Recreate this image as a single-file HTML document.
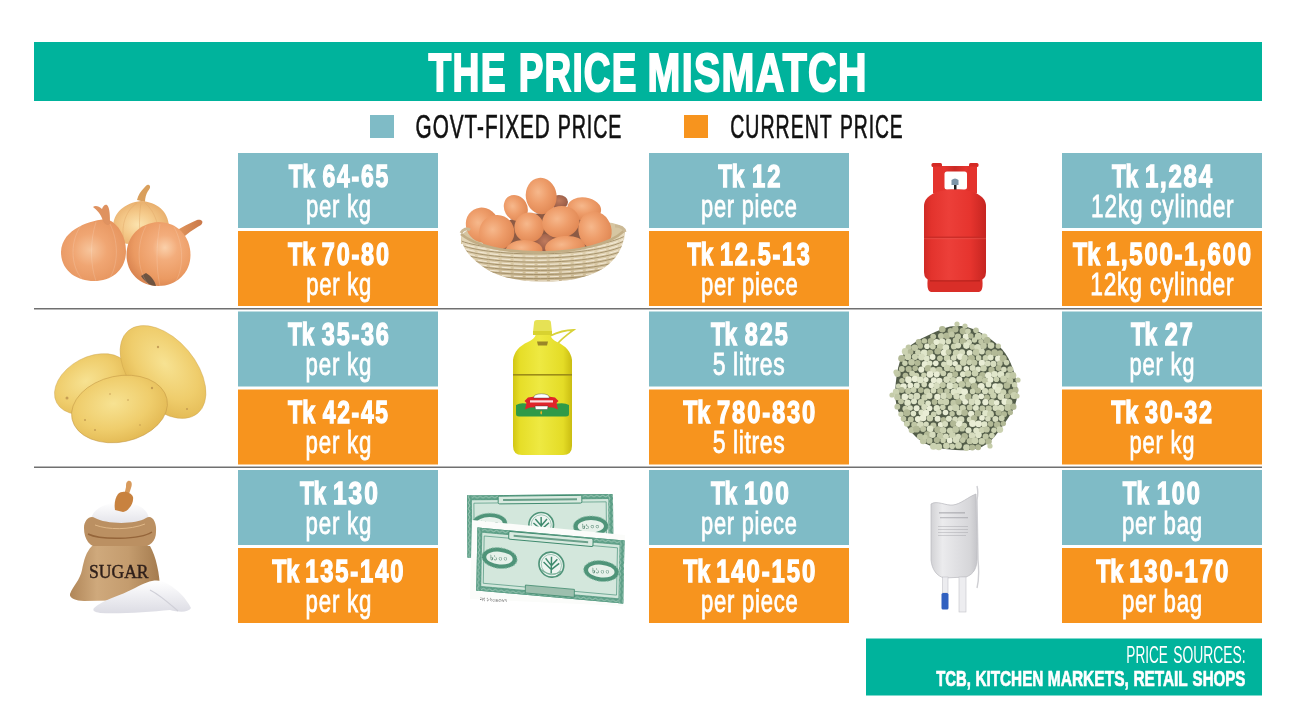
<!DOCTYPE html>
<html><head><meta charset="utf-8"><title>The Price Mismatch</title>
<style>
html,body{margin:0;padding:0;background:#fff;width:1300px;height:719px;overflow:hidden}
svg{display:block;position:absolute;left:0;top:0}
svg{font-family:"Liberation Sans",Arial,sans-serif;}
</style></head><body>
<svg width="1300" height="719" viewBox="0 0 1300 719">
<rect x="0" y="0" width="1300" height="719" fill="#fff"/>
<rect x="34" y="42" width="1228" height="59" fill="#00b39c"/>
<text y="91.40" font-size="54.5" font-weight="700" fill="#fff" stroke="#fff" stroke-width="2.0"><tspan x="428.40" textLength="78.40" lengthAdjust="spacingAndGlyphs" style="letter-spacing:1.91px">THE</tspan> <tspan x="518.70" textLength="118.90" lengthAdjust="spacingAndGlyphs" style="letter-spacing:1.75px">PRICE</tspan> <tspan x="647.50" textLength="220.20" lengthAdjust="spacingAndGlyphs" style="letter-spacing:1.91px">MISMATCH</tspan></text>
<rect x="370" y="115" width="24" height="23" fill="#7fbbc6"/>
<text y="138.40" font-size="32.6" font-weight="400" fill="#111" stroke="#111" stroke-width="0.65"><tspan x="415.60" textLength="135.20" lengthAdjust="spacingAndGlyphs" style="letter-spacing:1.49px">GOVT-FIXED</tspan> <tspan x="557.70" textLength="64.60" lengthAdjust="spacingAndGlyphs" style="letter-spacing:1.50px">PRICE</tspan></text>
<rect x="684" y="115" width="24" height="23" fill="#f7941e"/>
<text y="138.40" font-size="32.6" font-weight="400" fill="#111" stroke="#111" stroke-width="0.65"><tspan x="730.20" textLength="102.60" lengthAdjust="spacingAndGlyphs" style="letter-spacing:1.71px">CURRENT</tspan> <tspan x="840.10" textLength="63.50" lengthAdjust="spacingAndGlyphs" style="letter-spacing:1.50px">PRICE</tspan></text>
<rect x="34" y="308" width="1228" height="1.5" fill="#707070"/>
<rect x="34" y="466.5" width="1228" height="1.5" fill="#707070"/>
<rect x="238" y="153" width="200" height="75" fill="#7fbbc6"/><rect x="238" y="231" width="200" height="75" fill="#f7941e"/><rect x="649" y="153" width="200" height="75" fill="#7fbbc6"/><rect x="649" y="231" width="200" height="75" fill="#f7941e"/><rect x="1062" y="153" width="200" height="75" fill="#7fbbc6"/><rect x="1062" y="231" width="200" height="75" fill="#f7941e"/><rect x="238" y="311.5" width="200" height="75" fill="#7fbbc6"/><rect x="238" y="389.5" width="200" height="75" fill="#f7941e"/><rect x="649" y="311.5" width="200" height="75" fill="#7fbbc6"/><rect x="649" y="389.5" width="200" height="75" fill="#f7941e"/><rect x="1062" y="311.5" width="200" height="75" fill="#7fbbc6"/><rect x="1062" y="389.5" width="200" height="75" fill="#f7941e"/><rect x="238" y="470" width="200" height="75" fill="#7fbbc6"/><rect x="238" y="548" width="200" height="75" fill="#f7941e"/><rect x="649" y="470" width="200" height="75" fill="#7fbbc6"/><rect x="649" y="548" width="200" height="75" fill="#f7941e"/><rect x="1062" y="470" width="200" height="75" fill="#7fbbc6"/><rect x="1062" y="548" width="200" height="75" fill="#f7941e"/>
<text y="186.50" font-size="32" font-weight="700" fill="#fff" stroke="#fff" stroke-width="1.4"><tspan x="288.75" textLength="26.10" lengthAdjust="spacingAndGlyphs">Tk</tspan> <tspan x="322.60" textLength="67.40" lengthAdjust="spacingAndGlyphs" style="letter-spacing:2.45px">64-65</tspan></text><text y="216.60" font-size="31.5" font-weight="400" fill="#fff" stroke="#fff" stroke-width="0.8"><tspan x="305.90" textLength="65.90" lengthAdjust="spacingAndGlyphs" style="letter-spacing:1.10px">per kg</tspan></text><text y="264.50" font-size="32" font-weight="700" fill="#fff" stroke="#fff" stroke-width="1.4"><tspan x="288.00" textLength="27.00" lengthAdjust="spacingAndGlyphs">Tk</tspan> <tspan x="321.85" textLength="68.85" lengthAdjust="spacingAndGlyphs" style="letter-spacing:2.45px">70-80</tspan></text><text y="294.60" font-size="31.5" font-weight="400" fill="#fff" stroke="#fff" stroke-width="0.8"><tspan x="306.30" textLength="65.80" lengthAdjust="spacingAndGlyphs" style="letter-spacing:1.10px">per kg</tspan></text><text y="186.50" font-size="32" font-weight="700" fill="#fff" stroke="#fff" stroke-width="1.4"><tspan x="718.20" textLength="26.10" lengthAdjust="spacingAndGlyphs">Tk</tspan> <tspan x="752.05" textLength="30.45" lengthAdjust="spacingAndGlyphs" style="letter-spacing:2.66px">12</tspan></text><text y="216.60" font-size="31.5" font-weight="400" fill="#fff" stroke="#fff" stroke-width="0.8"><tspan x="701.10" textLength="96.50" lengthAdjust="spacingAndGlyphs" style="letter-spacing:1.08px">per piece</tspan></text><text y="264.50" font-size="32" font-weight="700" fill="#fff" stroke="#fff" stroke-width="1.4"><tspan x="687.15" textLength="26.10" lengthAdjust="spacingAndGlyphs">Tk</tspan> <tspan x="720.10" textLength="91.50" lengthAdjust="spacingAndGlyphs" style="letter-spacing:2.32px">12.5-13</tspan></text><text y="294.60" font-size="31.5" font-weight="400" fill="#fff" stroke="#fff" stroke-width="0.8"><tspan x="701.10" textLength="97.40" lengthAdjust="spacingAndGlyphs" style="letter-spacing:1.08px">per piece</tspan></text><text y="186.50" font-size="32" font-weight="700" fill="#fff" stroke="#fff" stroke-width="1.4"><tspan x="1111.95" textLength="26.10" lengthAdjust="spacingAndGlyphs">Tk</tspan> <tspan x="1144.90" textLength="68.95" lengthAdjust="spacingAndGlyphs" style="letter-spacing:2.39px">1,284</tspan></text><text y="216.60" font-size="31.5" font-weight="400" fill="#fff" stroke="#fff" stroke-width="0.8"><tspan x="1091.10" textLength="143.30" lengthAdjust="spacingAndGlyphs" style="letter-spacing:1.07px">12kg cylinder</tspan></text><text y="264.50" font-size="32" font-weight="700" fill="#fff" stroke="#fff" stroke-width="1.4"><tspan x="1073.00" textLength="27.00" lengthAdjust="spacingAndGlyphs">Tk</tspan> <tspan x="1105.95" textLength="146.75" lengthAdjust="spacingAndGlyphs" style="letter-spacing:2.32px">1,500-1,600</tspan></text><text y="294.60" font-size="31.5" font-weight="400" fill="#fff" stroke="#fff" stroke-width="0.8"><tspan x="1090.20" textLength="144.20" lengthAdjust="spacingAndGlyphs" style="letter-spacing:1.07px">12kg cylinder</tspan></text><text y="345.00" font-size="32" font-weight="700" fill="#fff" stroke="#fff" stroke-width="1.4"><tspan x="288.00" textLength="26.10" lengthAdjust="spacingAndGlyphs">Tk</tspan> <tspan x="321.85" textLength="68.75" lengthAdjust="spacingAndGlyphs" style="letter-spacing:2.45px">35-36</tspan></text><text y="375.10" font-size="31.5" font-weight="400" fill="#fff" stroke="#fff" stroke-width="0.8"><tspan x="305.60" textLength="66.50" lengthAdjust="spacingAndGlyphs" style="letter-spacing:1.10px">per kg</tspan></text><text y="423.00" font-size="32" font-weight="700" fill="#fff" stroke="#fff" stroke-width="1.4"><tspan x="288.00" textLength="27.00" lengthAdjust="spacingAndGlyphs">Tk</tspan> <tspan x="322.75" textLength="67.05" lengthAdjust="spacingAndGlyphs" style="letter-spacing:2.45px">42-45</tspan></text><text y="453.10" font-size="31.5" font-weight="400" fill="#fff" stroke="#fff" stroke-width="0.8"><tspan x="305.60" textLength="66.50" lengthAdjust="spacingAndGlyphs" style="letter-spacing:1.10px">per kg</tspan></text><text y="345.00" font-size="32" font-weight="700" fill="#fff" stroke="#fff" stroke-width="1.4"><tspan x="710.95" textLength="26.10" lengthAdjust="spacingAndGlyphs">Tk</tspan> <tspan x="744.80" textLength="44.95" lengthAdjust="spacingAndGlyphs" style="letter-spacing:2.66px">825</tspan></text><text y="375.10" font-size="31.5" font-weight="400" fill="#fff" stroke="#fff" stroke-width="0.8"><tspan x="712.70" textLength="72.60" lengthAdjust="spacingAndGlyphs" style="letter-spacing:0.87px">5 litres</tspan></text><text y="423.00" font-size="32" font-weight="700" fill="#fff" stroke="#fff" stroke-width="1.4"><tspan x="683.20" textLength="27.00" lengthAdjust="spacingAndGlyphs">Tk</tspan> <tspan x="717.05" textLength="100.05" lengthAdjust="spacingAndGlyphs" style="letter-spacing:2.51px">780-830</tspan></text><text y="453.10" font-size="31.5" font-weight="400" fill="#fff" stroke="#fff" stroke-width="0.8"><tspan x="712.70" textLength="72.60" lengthAdjust="spacingAndGlyphs" style="letter-spacing:0.87px">5 litres</tspan></text><text y="345.00" font-size="32" font-weight="700" fill="#fff" stroke="#fff" stroke-width="1.4"><tspan x="1130.95" textLength="26.10" lengthAdjust="spacingAndGlyphs">Tk</tspan> <tspan x="1164.80" textLength="29.90" lengthAdjust="spacingAndGlyphs" style="letter-spacing:2.66px">27</tspan></text><text y="375.10" font-size="31.5" font-weight="400" fill="#fff" stroke="#fff" stroke-width="0.8"><tspan x="1129.60" textLength="65.70" lengthAdjust="spacingAndGlyphs" style="letter-spacing:1.10px">per kg</tspan></text><text y="423.00" font-size="32" font-weight="700" fill="#fff" stroke="#fff" stroke-width="1.4"><tspan x="1111.20" textLength="27.00" lengthAdjust="spacingAndGlyphs">Tk</tspan> <tspan x="1145.05" textLength="68.85" lengthAdjust="spacingAndGlyphs" style="letter-spacing:2.45px">30-32</tspan></text><text y="453.10" font-size="31.5" font-weight="400" fill="#fff" stroke="#fff" stroke-width="0.8"><tspan x="1129.60" textLength="65.70" lengthAdjust="spacingAndGlyphs" style="letter-spacing:1.10px">per kg</tspan></text><text y="503.50" font-size="32" font-weight="700" fill="#fff" stroke="#fff" stroke-width="1.4"><tspan x="299.95" textLength="26.10" lengthAdjust="spacingAndGlyphs">Tk</tspan> <tspan x="332.90" textLength="47.00" lengthAdjust="spacingAndGlyphs" style="letter-spacing:2.66px">130</tspan></text><text y="533.60" font-size="31.5" font-weight="400" fill="#fff" stroke="#fff" stroke-width="0.8"><tspan x="305.60" textLength="66.50" lengthAdjust="spacingAndGlyphs" style="letter-spacing:1.10px">per kg</tspan></text><text y="581.50" font-size="32" font-weight="700" fill="#fff" stroke="#fff" stroke-width="1.4"><tspan x="272.20" textLength="27.00" lengthAdjust="spacingAndGlyphs">Tk</tspan> <tspan x="305.15" textLength="100.15" lengthAdjust="spacingAndGlyphs" style="letter-spacing:2.51px">135-140</tspan></text><text y="611.60" font-size="31.5" font-weight="400" fill="#fff" stroke="#fff" stroke-width="0.8"><tspan x="305.60" textLength="66.50" lengthAdjust="spacingAndGlyphs" style="letter-spacing:1.10px">per kg</tspan></text><text y="503.50" font-size="32" font-weight="700" fill="#fff" stroke="#fff" stroke-width="1.4"><tspan x="710.95" textLength="26.10" lengthAdjust="spacingAndGlyphs">Tk</tspan> <tspan x="743.90" textLength="47.00" lengthAdjust="spacingAndGlyphs" style="letter-spacing:2.66px">100</tspan></text><text y="533.60" font-size="31.5" font-weight="400" fill="#fff" stroke="#fff" stroke-width="0.8"><tspan x="701.10" textLength="96.50" lengthAdjust="spacingAndGlyphs" style="letter-spacing:1.08px">per piece</tspan></text><text y="581.50" font-size="32" font-weight="700" fill="#fff" stroke="#fff" stroke-width="1.4"><tspan x="683.20" textLength="27.00" lengthAdjust="spacingAndGlyphs">Tk</tspan> <tspan x="716.15" textLength="100.95" lengthAdjust="spacingAndGlyphs" style="letter-spacing:2.51px">140-150</tspan></text><text y="611.60" font-size="31.5" font-weight="400" fill="#fff" stroke="#fff" stroke-width="0.8"><tspan x="701.10" textLength="97.40" lengthAdjust="spacingAndGlyphs" style="letter-spacing:1.08px">per piece</tspan></text><text y="503.50" font-size="32" font-weight="700" fill="#fff" stroke="#fff" stroke-width="1.4"><tspan x="1122.80" textLength="26.10" lengthAdjust="spacingAndGlyphs">Tk</tspan> <tspan x="1156.65" textLength="45.30" lengthAdjust="spacingAndGlyphs" style="letter-spacing:2.66px">100</tspan></text><text y="533.60" font-size="31.5" font-weight="400" fill="#fff" stroke="#fff" stroke-width="0.8"><tspan x="1121.90" textLength="81.10" lengthAdjust="spacingAndGlyphs" style="letter-spacing:1.15px">per bag</tspan></text><text y="581.50" font-size="32" font-weight="700" fill="#fff" stroke="#fff" stroke-width="1.4"><tspan x="1096.20" textLength="27.00" lengthAdjust="spacingAndGlyphs">Tk</tspan> <tspan x="1129.15" textLength="100.95" lengthAdjust="spacingAndGlyphs" style="letter-spacing:2.51px">130-170</tspan></text><text y="611.60" font-size="31.5" font-weight="400" fill="#fff" stroke="#fff" stroke-width="0.8"><tspan x="1121.90" textLength="81.10" lengthAdjust="spacingAndGlyphs" style="letter-spacing:1.15px">per bag</tspan></text>
<rect x="866" y="638.5" width="396" height="57" fill="#00b39c"/>
<text y="662.80" font-size="23.0" font-weight="400" fill="#fff"><tspan x="1126.30" textLength="41.60" lengthAdjust="spacingAndGlyphs">PRICE</tspan> <tspan x="1173.20" textLength="72.50" lengthAdjust="spacingAndGlyphs">SOURCES:</tspan></text>
<text y="685.80" font-size="22.0" font-weight="700" fill="#fff" stroke="#fff" stroke-width="0.7"><tspan x="936.20" textLength="34.60" lengthAdjust="spacingAndGlyphs">TCB,</tspan> <tspan x="975.40" textLength="68.00" lengthAdjust="spacingAndGlyphs">KITCHEN</tspan> <tspan x="1047.80" textLength="81.00" lengthAdjust="spacingAndGlyphs">MARKETS,</tspan> <tspan x="1133.40" textLength="54.10" lengthAdjust="spacingAndGlyphs">RETAIL</tspan> <tspan x="1192.60" textLength="52.80" lengthAdjust="spacingAndGlyphs">SHOPS</tspan></text>
<defs><radialGradient id="onR" cx="0.6" cy="0.4" r="0.65"><stop offset="0" stop-color="#fad0aa"/><stop offset="0.3" stop-color="#f3ad7c"/><stop offset="0.75" stop-color="#eb9a62"/><stop offset="1" stop-color="#d98450"/></radialGradient>
<radialGradient id="onL" cx="0.45" cy="0.5" r="0.65"><stop offset="0" stop-color="#f7c59c"/><stop offset="0.4" stop-color="#f0a673"/><stop offset="0.85" stop-color="#e79660"/><stop offset="1" stop-color="#d98652"/></radialGradient>
<radialGradient id="onB" cx="0.45" cy="0.55" r="0.6"><stop offset="0" stop-color="#fbe3ae"/><stop offset="0.5" stop-color="#f4c888"/><stop offset="1" stop-color="#e6aa68"/></radialGradient>
<linearGradient id="stem" x1="0" y1="0" x2="1" y2="0"><stop offset="0" stop-color="#e59a5e"/><stop offset="1" stop-color="#c9784a"/></linearGradient><radialGradient id="egg" cx="0.42" cy="0.38" r="0.72"><stop offset="0" stop-color="#f6b88c"/><stop offset="0.45" stop-color="#ee9d6a"/><stop offset="0.85" stop-color="#e28a56"/><stop offset="1" stop-color="#c9703f"/></radialGradient>
<radialGradient id="eggD" cx="0.5" cy="0.4" r="0.7"><stop offset="0" stop-color="#c07a5c"/><stop offset="1" stop-color="#8a5240"/></radialGradient>
<linearGradient id="bask" x1="0" y1="0" x2="0" y2="1"><stop offset="0" stop-color="#e8dcc0"/><stop offset="0.6" stop-color="#d9c9a6"/><stop offset="1" stop-color="#c7b48e"/></linearGradient>
<clipPath id="bclip"><path d="M461,234 C475,246 505,252 540,252.5 C580,252 610,244 624,231 C625,245 618,258 604,268 C585,280 560,282 540,281.5 C515,281 495,276 482,266 C468,256 461,246 461,234 Z"/></clipPath><linearGradient id="cyl" x1="0" y1="0" x2="1" y2="0"><stop offset="0" stop-color="#cf2a25"/><stop offset="0.12" stop-color="#e3332d"/><stop offset="0.4" stop-color="#ec3f39"/><stop offset="0.75" stop-color="#e6342e"/><stop offset="1" stop-color="#c62521"/></linearGradient>
<linearGradient id="cylc" x1="0" y1="0" x2="1" y2="0"><stop offset="0" stop-color="#d42b26"/><stop offset="0.25" stop-color="#e6342e"/><stop offset="0.5" stop-color="#c92a25"/><stop offset="0.75" stop-color="#e6342e"/><stop offset="1" stop-color="#cf2823"/></linearGradient><radialGradient id="pot" cx="0.45" cy="0.4" r="0.7"><stop offset="0" stop-color="#f7e292"/><stop offset="0.55" stop-color="#efcd6c"/><stop offset="0.85" stop-color="#e4bb56"/><stop offset="1" stop-color="#cf9f42"/></radialGradient><linearGradient id="oil" x1="0" y1="0" x2="1" y2="0"><stop offset="0" stop-color="#d2c614"/><stop offset="0.12" stop-color="#e6de28"/><stop offset="0.45" stop-color="#eee942"/><stop offset="0.85" stop-color="#e4dc26"/><stop offset="1" stop-color="#cabd12"/></linearGradient><linearGradient id="sack" x1="0" y1="0" x2="1" y2="0"><stop offset="0" stop-color="#b08658"/><stop offset="0.3" stop-color="#cfa97c"/><stop offset="0.65" stop-color="#c49c6e"/><stop offset="1" stop-color="#a47b4e"/></linearGradient>
<linearGradient id="sug" x1="0" y1="0" x2="0" y2="1"><stop offset="0" stop-color="#ffffff"/><stop offset="1" stop-color="#dcdce4"/></linearGradient><pattern id="wav" width="6" height="4" patternUnits="userSpaceOnUse"><rect width="6" height="4" fill="#5d9f87"/><path d="M0,2 Q1.5,0.5 3,2 T6,2" stroke="#b5d6c6" stroke-width="0.8" fill="none"/></pattern>
<pattern id="wavv" width="4" height="6" patternUnits="userSpaceOnUse"><rect width="4" height="6" fill="#5d9f87"/><path d="M2,0 Q0.5,1.5 2,3 T2,6" stroke="#b5d6c6" stroke-width="0.8" fill="none"/></pattern><linearGradient id="iv" x1="0" y1="0" x2="1" y2="0"><stop offset="0" stop-color="#d2d2d5"/><stop offset="0.25" stop-color="#ebebed"/><stop offset="0.55" stop-color="#e0e0e3"/><stop offset="0.85" stop-color="#d6d6d9"/><stop offset="1" stop-color="#c6c6ca"/></linearGradient></defs><g id="onions">
<path d="M137,200 C138,195 141,191 144,188 C146,186 147,184 149,185 C151,186 150,189 148,191 C146,194 145,198 145,202 Z" fill="#d99f5c"/>
<path d="M141,201 C125,203 113,212 113,228 C113,238 120,244 130,244 L160,244 C168,242 170,234 169,226 C168,211 157,202 141,201 Z" fill="url(#onB)"/>
<g stroke="#e0a868" stroke-opacity="0.55" stroke-width="0.8" fill="none"><path d="M137,203 C124,212 121,228 124,242"/><path d="M145,203 C156,212 160,228 158,242"/><path d="M141,203 C139,215 139,230 141,244"/></g>
<path d="M174,232 C182,227 190,223 197,220 C202,219 204,222 201,225 C194,229 186,234 181,240 Z" fill="url(#stem)"/>
<path d="M107,219 C92,220 62,228 61,252 C61,271 77,281 94,281 C112,281 126,270 126,251 C126,236 118,224 109,220 Z" fill="url(#onL)"/>
<path d="M103,221 C101,214 97,210 93,207 C95,205 99,206 102,209 C103,206 105,204 107,205 C110,208 110,216 110,224 C108,226 105,225 103,221 Z" fill="#df9260"/>
<path d="M158.5,222 C140,223 126.5,236 126.5,255 C126.5,273 140,286 158.5,286 C176,286 190.5,273 190.5,255 C190.5,236 177,222 158.5,222 Z" fill="url(#onR)"/>
<path d="M141,276 C145,282 150,286 156,286 C155,281 151,276 146,273 Z" fill="#6f5340"/>
<g stroke="#fff" stroke-opacity="0.16" stroke-width="0.9" fill="none">
<path d="M82,224 C70,240 70,265 82,279"/><path d="M96,222 C90,240 90,265 96,281"/><path d="M110,224 C118,240 119,262 110,278"/>
<path d="M146,226 C136,245 137,270 148,284"/><path d="M160,224 C156,245 156,268 160,286"/><path d="M174,227 C184,245 184,268 175,283"/>
</g>
</g>
<g id="eggs">
<path d="M461,236 C466,229 476,226 486,226 L600,222 C612,222 622,224 625,231 L624,240 L461,244 Z" fill="#d6c6a2"/>
<path d="M492,236 C497,222 520,214 545,213 C570,213 592,220 598,234 L592,250 L496,250 Z" fill="#8c5a44"/>
<ellipse cx="559" cy="202" rx="9" ry="7" transform="rotate(0 559 202)" fill="url(#eggD)"/>
<ellipse cx="541.2" cy="196" rx="15.4" ry="18.3" transform="rotate(-8 541.2 196)" fill="url(#egg)"/>
<ellipse cx="584.2" cy="209" rx="17" ry="11.5" transform="rotate(8 584.2 209)" fill="url(#egg)"/>
<ellipse cx="515.8" cy="208" rx="11.5" ry="13.5" transform="rotate(-30 515.8 208)" fill="url(#egg)"/>
<ellipse cx="482.5" cy="225" rx="16.4" ry="17.7" transform="rotate(-30 482.5 225)" fill="url(#egg)"/>
<ellipse cx="545" cy="243" rx="10" ry="9" transform="rotate(0 545 243)" fill="url(#eggD)"/>
<ellipse cx="529.2" cy="227.5" rx="14.8" ry="15" transform="rotate(0 529.2 227.5)" fill="url(#egg)"/>
<ellipse cx="560.8" cy="222" rx="18.8" ry="16" transform="rotate(-10 560.8 222)" fill="url(#egg)"/>
<ellipse cx="595" cy="230.5" rx="16.5" ry="19.2" transform="rotate(-15 595 230.5)" fill="url(#egg)"/>
<ellipse cx="496.7" cy="232.5" rx="17.7" ry="17.5" transform="rotate(-20 496.7 232.5)" fill="url(#egg)"/>
<ellipse cx="524.2" cy="250" rx="18.3" ry="10" transform="rotate(0 524.2 250)" fill="url(#egg)"/>
<ellipse cx="565" cy="247" rx="20" ry="11" transform="rotate(-5 565 247)" fill="url(#egg)"/>
<path d="M461,234 C475,246 505,252 540,252.5 C580,252 610,244 624,231 C625,245 618,258 604,268 C585,280 560,282 540,281.5 C515,281 495,276 482,266 C468,256 461,246 461,234 Z" fill="url(#bask)"/>
<g clip-path="url(#bclip)">
<g stroke="#9c8862" stroke-width="1" fill="none" opacity="0.85">
<path d="M455,238.0 C480,254.0 600,255.0 630,233.0"/>
<path d="M455,242.3 C480,258.0 600,259.0 630,237.7"/>
<path d="M455,246.6 C480,262.0 600,263.0 630,242.4"/>
<path d="M455,250.9 C480,266.0 600,267.0 630,247.1"/>
<path d="M455,255.1 C480,270.0 600,271.0 630,251.9"/>
<path d="M455,259.4 C480,274.0 600,275.0 630,256.6"/>
<path d="M455,263.7 C480,278.0 600,279.0 630,261.3"/>
<path d="M455,268.0 C480,282.0 600,283.0 630,266.0"/>
</g>
<g stroke="#f4ecdc" stroke-width="1" fill="none" opacity="0.9">
<path d="M455,240.5 C480,256.3 600,257.3 630,235.5" stroke-dasharray="9 3"/>
<path d="M455,244.8 C480,260.3 600,261.3 630,240.2" stroke-dasharray="9 3"/>
<path d="M455,249.1 C480,264.3 600,265.3 630,244.9" stroke-dasharray="9 3"/>
<path d="M455,253.4 C480,268.3 600,269.3 630,249.6" stroke-dasharray="9 3"/>
<path d="M455,257.6 C480,272.3 600,273.3 630,254.4" stroke-dasharray="9 3"/>
<path d="M455,261.9 C480,276.3 600,277.3 630,259.1" stroke-dasharray="9 3"/>
<path d="M455,266.2 C480,280.3 600,281.3 630,263.8" stroke-dasharray="9 3"/>
<path d="M455,270.5 C480,284.3 600,285.3 630,268.5" stroke-dasharray="9 3"/>
</g></g>
<path d="M461,234 C475,246 505,252 540,252.5 C580,252 610,244 624,231" stroke="#c2ae86" stroke-width="2.4" fill="none"/>
<path d="M461,233 C463,229 467,228 470,230" stroke="#cbb995" stroke-width="3" fill="none"/>
<path d="M615,226 C620,226 624,228 625,232" stroke="#cbb995" stroke-width="3" fill="none"/>
</g>
<g id="cyl">
<path d="M933,166 L977,166 L977,193 L933,193 Z M944.5,171.5 L944.5,187 Q944.5,189.5 947,189.5 L964.5,189.5 Q967,189.5 967,187 L967,174 Q967,171.5 964.5,171.5 L947,171.5 Q944.5,171.5 944.5,174 Z" fill="url(#cylc)" fill-rule="evenodd"/>
<rect x="931.5" y="163" width="10.5" height="4" rx="1.5" fill="#d42a25"/>
<rect x="969" y="163" width="9.5" height="4" rx="1.5" fill="#d42a25"/>
<rect x="933" y="166.5" width="9" height="27" fill="#e4332d"/>
<rect x="969.5" y="166.5" width="7.5" height="27" fill="#e4332d"/>
<rect x="954" y="184" width="2.5" height="6" fill="#222"/>
<path d="M951.5,180 Q955,177 958.5,180 L958.5,185 L951.5,185 Z" fill="#7d95a8"/>
<path d="M928,277 L982,277 Q984,291 979,292 L931,292 Q926,291 928,277 Z" fill="#d92e28"/>
<path d="M924,206 C924,196 936,189.5 955,189.5 C974,189.5 986,196 986,206 L986,272 Q986,280 978,281 L932,281 Q924,280 924,272 Z" fill="url(#cyl)"/>
<rect x="924" y="236.5" width="62" height="1.6" fill="#c42a25" opacity="0.8"/>
<rect x="924" y="238.2" width="62" height="1" fill="#f0625a" opacity="0.5"/>
<rect x="930" y="280" width="50" height="1.5" fill="#a81c18" opacity="0.6"/>
</g>
<g id="potatoes">
<ellipse cx="92" cy="384" rx="40" ry="27" transform="rotate(-28 92 384)" fill="url(#pot)" stroke="#caa04a" stroke-opacity="0.5" stroke-width="0.8"/>
<ellipse cx="163" cy="372" rx="54" ry="33" transform="rotate(50 163 372)" fill="url(#pot)" stroke="#caa04a" stroke-opacity="0.5" stroke-width="0.8"/>
<ellipse cx="119.5" cy="409" rx="48.5" ry="33" transform="rotate(-12 119.5 409)" fill="url(#pot)" stroke="#c49a46" stroke-opacity="0.6" stroke-width="0.9"/>
<g fill="#b58a48" opacity="0.7"><circle cx="67" cy="398" r="1.5"/><circle cx="85" cy="420" r="1"/><circle cx="110" cy="394" r="0.8"/><circle cx="128" cy="400" r="0.8"/><circle cx="152" cy="388" r="1.2"/><circle cx="158" cy="347" r="1.2"/><circle cx="187" cy="409" r="1"/><circle cx="95" cy="430" r="1"/><circle cx="140" cy="425" r="0.8"/></g>
</g>
<g id="oil">
<path d="M550,336 C558,332 566,330 573.5,330 C568,334 561,339 556.5,345" stroke="#d8d23a" stroke-width="1.8" fill="none"/>
<path d="M536,334 L550,334 C551,338 553,340 557,342 C566,346 571,352 572,360 L572,446 Q572,455 563,455 L522,455 Q513,455 513,446 L513,360 C514,352 519,346 528,342 C532,340 535,338 536,334 Z" fill="url(#oil)"/>
<path d="M537,341.5 L548,341.5 L547,345.5 L538,345.5 Z" fill="#8c7424" opacity="0.85"/>
<path d="M534,323 Q534,320 537,320 L548,320 Q551,320 551,323 L552,332 L533,332 Z" fill="#e6e255"/>
<rect x="533" y="331" width="19" height="4" fill="#d8d230"/>
<rect x="513" y="374" width="59" height="1.6" fill="#9c8c18"/>
<path d="M516,405 Q520,402.5 526,403.5 L558,403.5 Q565,402.5 569,405 L569,414 Q569,416.5 566,416.5 L519,416.5 Q516,416.5 516,414 Z" fill="#2f9a48"/>
<path d="M524.5,401 L528,397.5 Q541.5,395 555,397.5 L558.5,401 L556.5,403 L558,409.5 L553,407.5 Q541.5,406.5 530,407.5 L525,409.5 L526.5,403 Z" fill="#e0242a"/>
<path d="M533.5,398 Q533.5,394 541.5,393.8 Q549.5,394 549.5,398 Z" fill="#fff" stroke="#333" stroke-width="0.4"/>
<path d="M535,406 L548,406 L547.5,409.5 L535.5,409.5 Z" fill="#fff" stroke="#333" stroke-width="0.4"/>
<rect x="530" y="400.3" width="23" height="2.2" fill="#fff" opacity="0.85"/>
<path d="M541.2,410.5 Q543,413 541.2,414.8 Q539.4,413 541.2,410.5 Z" fill="#f4b41e"/>
</g>
<g id="lentils">
<polygon points="1017.3,389.0 1017.3,394.5 1016.5,399.9 1015.0,405.2 1012.8,410.2 1010.1,414.9 1007.2,419.4 1004.2,423.7 1001.2,428.0 998.0,432.2 994.7,436.5 990.9,440.4 986.7,443.9 982.0,446.7 976.9,448.6 971.5,449.8 966.1,450.2 960.8,450.2 955.5,449.9 950.3,449.5 945.1,448.9 939.9,448.2 934.7,447.1 929.6,445.4 924.7,443.2 920.2,440.3 916.0,436.9 912.1,433.1 908.6,429.0 905.4,424.6 902.5,420.1 900.0,415.3 898.0,410.3 896.5,405.1 895.6,399.7 895.2,394.4 895.3,389.0 895.7,383.7 896.3,378.4 897.1,373.1 898.1,367.8 899.6,362.5 901.6,357.4 904.3,352.5 907.7,348.3 911.8,344.6 916.3,341.5 920.9,338.8 925.7,336.5 930.4,334.3 935.1,332.1 939.9,330.0 944.9,328.1 950.1,326.6 955.5,325.9 960.9,325.9 966.3,326.8 971.5,328.4 976.4,330.6 981.2,333.1 985.7,335.8 990.1,338.7 994.4,341.9 998.4,345.4 1002.1,349.3 1005.4,353.5 1008.2,358.1 1010.6,362.9 1012.6,367.9 1014.3,373.0 1015.7,378.2 1016.8,383.6" fill="#535d49"/>
<circle cx="942.3" cy="329.3" r="3.3" fill="#b2b996"/>
<circle cx="950.5" cy="330.8" r="2.9" fill="#b2b996"/>
<circle cx="955.3" cy="329.3" r="3.2" fill="#b2b996"/>
<circle cx="962.9" cy="331.1" r="3.3" fill="#b2b996"/>
<circle cx="968.0" cy="331.2" r="2.8" fill="#cbd2b1"/>
<circle cx="976.0" cy="330.3" r="2.8" fill="#c0c7a5"/>
<circle cx="933.2" cy="336.6" r="2.9" fill="#c0c7a5"/>
<circle cx="941.1" cy="336.0" r="3.1" fill="#c0c7a5"/>
<circle cx="946.8" cy="335.8" r="3.3" fill="#b2b996"/>
<circle cx="951.8" cy="334.5" r="2.9" fill="#c0c7a5"/>
<circle cx="957.9" cy="336.6" r="3.1" fill="#c0c7a5"/>
<circle cx="966.0" cy="336.7" r="3.2" fill="#e9edd5"/>
<circle cx="970.8" cy="336.0" r="2.7" fill="#b2b996"/>
<circle cx="978.3" cy="336.2" r="3.5" fill="#cbd2b1"/>
<circle cx="984.3" cy="336.8" r="3.2" fill="#cbd2b1"/>
<circle cx="918.7" cy="342.1" r="3.0" fill="#b2b996"/>
<circle cx="924.4" cy="340.9" r="2.7" fill="#c0c7a5"/>
<circle cx="930.9" cy="341.4" r="3.3" fill="#b2b996"/>
<circle cx="936.6" cy="342.0" r="3.1" fill="#e9edd5"/>
<circle cx="942.1" cy="341.8" r="3.4" fill="#e0e6ca"/>
<circle cx="948.4" cy="341.4" r="2.8" fill="#d6dcbe"/>
<circle cx="955.9" cy="340.5" r="3.2" fill="#c0c7a5"/>
<circle cx="962.8" cy="341.2" r="3.2" fill="#b2b996"/>
<circle cx="969.0" cy="342.2" r="2.9" fill="#d6dcbe"/>
<circle cx="974.5" cy="340.0" r="2.7" fill="#cbd2b1"/>
<circle cx="981.0" cy="341.6" r="2.7" fill="#c0c7a5"/>
<circle cx="987.2" cy="340.4" r="3.4" fill="#b2b996"/>
<circle cx="908.7" cy="347.5" r="3.1" fill="#c0c7a5"/>
<circle cx="914.8" cy="347.8" r="3.3" fill="#c0c7a5"/>
<circle cx="920.2" cy="345.9" r="2.8" fill="#b2b996"/>
<circle cx="927.0" cy="346.2" r="2.8" fill="#e9edd5"/>
<circle cx="932.8" cy="346.5" r="2.9" fill="#cbd2b1"/>
<circle cx="940.2" cy="346.7" r="3.3" fill="#c0c7a5"/>
<circle cx="945.9" cy="347.5" r="3.3" fill="#e0e6ca"/>
<circle cx="953.9" cy="346.6" r="3.0" fill="#cbd2b1"/>
<circle cx="958.1" cy="345.6" r="3.0" fill="#d6dcbe"/>
<circle cx="966.4" cy="345.6" r="3.3" fill="#e0e6ca"/>
<circle cx="972.4" cy="346.9" r="2.8" fill="#c0c7a5"/>
<circle cx="977.8" cy="347.4" r="3.5" fill="#d6dcbe"/>
<circle cx="983.5" cy="345.8" r="3.3" fill="#c0c7a5"/>
<circle cx="991.0" cy="345.6" r="3.3" fill="#cbd2b1"/>
<circle cx="998.3" cy="346.1" r="2.7" fill="#c0c7a5"/>
<circle cx="905.2" cy="351.5" r="3.4" fill="#cbd2b1"/>
<circle cx="910.6" cy="351.9" r="2.8" fill="#b2b996"/>
<circle cx="918.0" cy="352.3" r="2.9" fill="#cbd2b1"/>
<circle cx="924.2" cy="352.9" r="3.4" fill="#e0e6ca"/>
<circle cx="930.0" cy="353.0" r="3.2" fill="#b2b996"/>
<circle cx="937.7" cy="351.3" r="3.3" fill="#b2b996"/>
<circle cx="944.1" cy="352.8" r="3.2" fill="#e9edd5"/>
<circle cx="948.6" cy="352.1" r="2.9" fill="#c0c7a5"/>
<circle cx="956.2" cy="353.2" r="3.4" fill="#cbd2b1"/>
<circle cx="962.0" cy="352.4" r="3.1" fill="#d6dcbe"/>
<circle cx="969.6" cy="353.0" r="3.0" fill="#e9edd5"/>
<circle cx="976.2" cy="352.2" r="3.5" fill="#c0c7a5"/>
<circle cx="981.9" cy="351.5" r="2.9" fill="#d6dcbe"/>
<circle cx="988.4" cy="353.0" r="3.0" fill="#b2b996"/>
<circle cx="994.6" cy="352.8" r="3.5" fill="#b2b996"/>
<circle cx="1000.0" cy="353.2" r="3.0" fill="#b2b996"/>
<circle cx="901.6" cy="358.4" r="3.4" fill="#b2b996"/>
<circle cx="907.9" cy="356.7" r="3.4" fill="#cbd2b1"/>
<circle cx="915.0" cy="356.8" r="3.1" fill="#cbd2b1"/>
<circle cx="921.4" cy="357.0" r="3.4" fill="#d6dcbe"/>
<circle cx="926.7" cy="358.5" r="3.0" fill="#e0e6ca"/>
<circle cx="932.6" cy="357.0" r="2.9" fill="#e9edd5"/>
<circle cx="939.9" cy="358.3" r="2.9" fill="#c0c7a5"/>
<circle cx="947.1" cy="358.3" r="3.3" fill="#cbd2b1"/>
<circle cx="953.8" cy="357.8" r="2.9" fill="#d6dcbe"/>
<circle cx="960.2" cy="356.8" r="3.2" fill="#e9edd5"/>
<circle cx="964.8" cy="357.9" r="3.1" fill="#cbd2b1"/>
<circle cx="971.4" cy="358.3" r="3.5" fill="#b2b996"/>
<circle cx="978.6" cy="357.9" r="2.8" fill="#cbd2b1"/>
<circle cx="985.5" cy="357.9" r="2.9" fill="#cbd2b1"/>
<circle cx="990.6" cy="357.5" r="3.0" fill="#e0e6ca"/>
<circle cx="998.3" cy="358.8" r="3.3" fill="#e9edd5"/>
<circle cx="1003.2" cy="358.6" r="3.5" fill="#b2b996"/>
<circle cx="904.9" cy="363.3" r="2.7" fill="#cbd2b1"/>
<circle cx="911.6" cy="362.3" r="3.3" fill="#c0c7a5"/>
<circle cx="917.6" cy="363.1" r="3.0" fill="#b2b996"/>
<circle cx="925.0" cy="364.4" r="3.3" fill="#e9edd5"/>
<circle cx="929.7" cy="363.3" r="2.8" fill="#e0e6ca"/>
<circle cx="935.8" cy="363.2" r="2.8" fill="#e9edd5"/>
<circle cx="943.9" cy="364.3" r="2.8" fill="#d6dcbe"/>
<circle cx="949.4" cy="362.9" r="3.3" fill="#e0e6ca"/>
<circle cx="955.2" cy="363.6" r="2.7" fill="#e9edd5"/>
<circle cx="963.3" cy="362.4" r="3.4" fill="#cbd2b1"/>
<circle cx="969.4" cy="362.2" r="2.8" fill="#cbd2b1"/>
<circle cx="974.4" cy="362.7" r="3.0" fill="#c0c7a5"/>
<circle cx="981.9" cy="362.9" r="3.2" fill="#e9edd5"/>
<circle cx="987.6" cy="363.6" r="3.0" fill="#d6dcbe"/>
<circle cx="993.4" cy="363.9" r="3.1" fill="#d6dcbe"/>
<circle cx="999.8" cy="363.4" r="2.8" fill="#c0c7a5"/>
<circle cx="1006.5" cy="362.6" r="2.8" fill="#cbd2b1"/>
<circle cx="901.8" cy="369.0" r="2.9" fill="#c0c7a5"/>
<circle cx="908.7" cy="369.1" r="3.1" fill="#b2b996"/>
<circle cx="915.2" cy="368.2" r="2.8" fill="#b2b996"/>
<circle cx="921.3" cy="369.6" r="3.1" fill="#e9edd5"/>
<circle cx="928.1" cy="368.4" r="3.3" fill="#b2b996"/>
<circle cx="933.1" cy="369.9" r="3.0" fill="#d6dcbe"/>
<circle cx="939.2" cy="370.1" r="3.4" fill="#c0c7a5"/>
<circle cx="947.2" cy="368.0" r="3.3" fill="#cbd2b1"/>
<circle cx="952.1" cy="369.4" r="2.8" fill="#c0c7a5"/>
<circle cx="958.5" cy="367.9" r="3.4" fill="#d6dcbe"/>
<circle cx="966.3" cy="368.7" r="2.8" fill="#e9edd5"/>
<circle cx="972.6" cy="368.0" r="3.0" fill="#d6dcbe"/>
<circle cx="978.1" cy="369.3" r="2.8" fill="#e0e6ca"/>
<circle cx="983.5" cy="368.2" r="3.3" fill="#cbd2b1"/>
<circle cx="991.5" cy="369.9" r="3.2" fill="#b2b996"/>
<circle cx="998.6" cy="368.0" r="2.9" fill="#b2b996"/>
<circle cx="1003.9" cy="369.5" r="2.8" fill="#d6dcbe"/>
<circle cx="1010.3" cy="369.3" r="3.1" fill="#c0c7a5"/>
<circle cx="897.5" cy="373.7" r="3.2" fill="#c0c7a5"/>
<circle cx="905.5" cy="375.6" r="2.9" fill="#b2b996"/>
<circle cx="912.1" cy="373.5" r="2.9" fill="#cbd2b1"/>
<circle cx="916.4" cy="375.5" r="2.8" fill="#cbd2b1"/>
<circle cx="923.8" cy="375.1" r="2.7" fill="#cbd2b1"/>
<circle cx="929.9" cy="374.3" r="3.4" fill="#e9edd5"/>
<circle cx="936.7" cy="374.3" r="3.1" fill="#e9edd5"/>
<circle cx="943.3" cy="373.3" r="2.9" fill="#cbd2b1"/>
<circle cx="950.0" cy="375.3" r="2.9" fill="#d6dcbe"/>
<circle cx="955.1" cy="374.3" r="3.0" fill="#b2b996"/>
<circle cx="962.9" cy="374.2" r="2.9" fill="#e0e6ca"/>
<circle cx="968.0" cy="373.6" r="3.3" fill="#cbd2b1"/>
<circle cx="975.1" cy="373.3" r="3.3" fill="#cbd2b1"/>
<circle cx="982.4" cy="375.1" r="3.2" fill="#b2b996"/>
<circle cx="988.4" cy="375.3" r="3.4" fill="#e9edd5"/>
<circle cx="994.6" cy="374.2" r="3.3" fill="#e0e6ca"/>
<circle cx="1000.9" cy="374.4" r="3.4" fill="#e0e6ca"/>
<circle cx="1008.3" cy="375.2" r="3.0" fill="#cbd2b1"/>
<circle cx="1012.9" cy="375.4" r="3.4" fill="#c0c7a5"/>
<circle cx="902.0" cy="380.6" r="2.7" fill="#c0c7a5"/>
<circle cx="908.5" cy="379.7" r="3.4" fill="#e9edd5"/>
<circle cx="914.8" cy="378.9" r="3.1" fill="#e9edd5"/>
<circle cx="920.3" cy="379.9" r="3.4" fill="#e0e6ca"/>
<circle cx="925.9" cy="379.6" r="2.7" fill="#e9edd5"/>
<circle cx="933.8" cy="380.3" r="3.0" fill="#e9edd5"/>
<circle cx="939.3" cy="381.0" r="3.2" fill="#e9edd5"/>
<circle cx="946.7" cy="379.6" r="3.4" fill="#d6dcbe"/>
<circle cx="953.1" cy="380.1" r="3.2" fill="#cbd2b1"/>
<circle cx="959.2" cy="379.7" r="3.2" fill="#e9edd5"/>
<circle cx="966.7" cy="380.3" r="2.7" fill="#b2b996"/>
<circle cx="972.4" cy="380.6" r="3.5" fill="#e0e6ca"/>
<circle cx="979.5" cy="378.8" r="3.2" fill="#c0c7a5"/>
<circle cx="985.0" cy="380.5" r="3.1" fill="#c0c7a5"/>
<circle cx="990.5" cy="379.7" r="3.0" fill="#e9edd5"/>
<circle cx="996.4" cy="379.2" r="2.8" fill="#cbd2b1"/>
<circle cx="1003.6" cy="379.0" r="3.4" fill="#cbd2b1"/>
<circle cx="1009.7" cy="380.9" r="3.5" fill="#c0c7a5"/>
<circle cx="898.5" cy="386.1" r="2.7" fill="#cbd2b1"/>
<circle cx="903.6" cy="386.5" r="3.2" fill="#e9edd5"/>
<circle cx="910.3" cy="385.4" r="2.9" fill="#e9edd5"/>
<circle cx="916.7" cy="385.5" r="3.1" fill="#e0e6ca"/>
<circle cx="924.2" cy="384.4" r="2.8" fill="#d6dcbe"/>
<circle cx="931.4" cy="385.3" r="2.9" fill="#e9edd5"/>
<circle cx="936.8" cy="385.7" r="3.2" fill="#d6dcbe"/>
<circle cx="942.8" cy="385.0" r="3.1" fill="#c0c7a5"/>
<circle cx="949.9" cy="385.7" r="3.5" fill="#e0e6ca"/>
<circle cx="955.4" cy="386.0" r="2.9" fill="#cbd2b1"/>
<circle cx="961.8" cy="384.3" r="3.4" fill="#c0c7a5"/>
<circle cx="968.1" cy="384.4" r="2.8" fill="#c0c7a5"/>
<circle cx="974.3" cy="386.1" r="3.4" fill="#b2b996"/>
<circle cx="981.2" cy="386.5" r="3.5" fill="#e9edd5"/>
<circle cx="988.5" cy="384.4" r="2.9" fill="#e0e6ca"/>
<circle cx="995.5" cy="386.6" r="3.4" fill="#e9edd5"/>
<circle cx="999.7" cy="386.5" r="3.3" fill="#d6dcbe"/>
<circle cx="1006.9" cy="385.5" r="3.3" fill="#b2b996"/>
<circle cx="1014.6" cy="384.9" r="2.8" fill="#cbd2b1"/>
<circle cx="896.2" cy="391.8" r="3.4" fill="#cbd2b1"/>
<circle cx="901.7" cy="390.1" r="3.0" fill="#b2b996"/>
<circle cx="908.2" cy="390.9" r="3.1" fill="#c0c7a5"/>
<circle cx="913.6" cy="390.0" r="2.9" fill="#cbd2b1"/>
<circle cx="920.8" cy="390.1" r="2.9" fill="#b2b996"/>
<circle cx="927.0" cy="391.5" r="3.2" fill="#cbd2b1"/>
<circle cx="933.4" cy="390.5" r="2.9" fill="#d6dcbe"/>
<circle cx="940.1" cy="390.9" r="3.0" fill="#b2b996"/>
<circle cx="947.0" cy="391.1" r="2.8" fill="#c0c7a5"/>
<circle cx="953.9" cy="392.1" r="3.3" fill="#e0e6ca"/>
<circle cx="959.7" cy="390.4" r="3.5" fill="#e0e6ca"/>
<circle cx="964.6" cy="392.0" r="3.4" fill="#e9edd5"/>
<circle cx="972.6" cy="391.4" r="2.8" fill="#cbd2b1"/>
<circle cx="978.0" cy="390.5" r="3.1" fill="#b2b996"/>
<circle cx="985.1" cy="391.2" r="3.1" fill="#d6dcbe"/>
<circle cx="991.3" cy="391.4" r="3.2" fill="#cbd2b1"/>
<circle cx="998.1" cy="390.3" r="3.4" fill="#e0e6ca"/>
<circle cx="1003.3" cy="392.2" r="3.0" fill="#cbd2b1"/>
<circle cx="1011.3" cy="392.0" r="3.1" fill="#b2b996"/>
<circle cx="1015.6" cy="390.0" r="3.0" fill="#b2b996"/>
<circle cx="897.3" cy="397.0" r="3.2" fill="#c0c7a5"/>
<circle cx="904.8" cy="396.9" r="3.3" fill="#e9edd5"/>
<circle cx="910.8" cy="396.5" r="2.8" fill="#d6dcbe"/>
<circle cx="916.8" cy="396.2" r="3.4" fill="#d6dcbe"/>
<circle cx="924.5" cy="397.4" r="3.2" fill="#cbd2b1"/>
<circle cx="929.3" cy="395.7" r="3.2" fill="#d6dcbe"/>
<circle cx="937.4" cy="396.9" r="3.2" fill="#e9edd5"/>
<circle cx="943.7" cy="395.9" r="3.3" fill="#d6dcbe"/>
<circle cx="949.3" cy="396.0" r="2.9" fill="#c0c7a5"/>
<circle cx="956.6" cy="396.3" r="3.2" fill="#d6dcbe"/>
<circle cx="962.7" cy="397.8" r="3.2" fill="#e0e6ca"/>
<circle cx="968.3" cy="396.7" r="3.1" fill="#b2b996"/>
<circle cx="975.7" cy="397.6" r="3.5" fill="#d6dcbe"/>
<circle cx="981.3" cy="396.3" r="2.9" fill="#e9edd5"/>
<circle cx="986.9" cy="397.5" r="3.0" fill="#b2b996"/>
<circle cx="993.3" cy="395.6" r="3.2" fill="#cbd2b1"/>
<circle cx="1000.9" cy="396.6" r="3.4" fill="#d6dcbe"/>
<circle cx="1007.5" cy="396.1" r="2.7" fill="#b2b996"/>
<circle cx="1014.2" cy="395.6" r="3.5" fill="#cbd2b1"/>
<circle cx="901.0" cy="401.3" r="2.9" fill="#c0c7a5"/>
<circle cx="907.6" cy="402.7" r="3.3" fill="#e0e6ca"/>
<circle cx="914.0" cy="401.2" r="3.0" fill="#e0e6ca"/>
<circle cx="921.2" cy="402.3" r="3.4" fill="#cbd2b1"/>
<circle cx="928.1" cy="403.2" r="2.8" fill="#e0e6ca"/>
<circle cx="934.5" cy="402.0" r="2.9" fill="#b2b996"/>
<circle cx="940.6" cy="401.7" r="2.9" fill="#cbd2b1"/>
<circle cx="945.9" cy="401.9" r="3.3" fill="#cbd2b1"/>
<circle cx="953.7" cy="403.1" r="3.3" fill="#c0c7a5"/>
<circle cx="958.5" cy="401.8" r="3.0" fill="#b2b996"/>
<circle cx="965.2" cy="401.8" r="2.9" fill="#e9edd5"/>
<circle cx="971.6" cy="401.9" r="3.3" fill="#d6dcbe"/>
<circle cx="977.6" cy="402.3" r="3.1" fill="#e0e6ca"/>
<circle cx="985.4" cy="402.2" r="3.1" fill="#e9edd5"/>
<circle cx="991.9" cy="402.3" r="3.4" fill="#cbd2b1"/>
<circle cx="996.7" cy="402.8" r="2.8" fill="#e9edd5"/>
<circle cx="1004.8" cy="401.6" r="3.4" fill="#e9edd5"/>
<circle cx="1009.2" cy="402.2" r="3.2" fill="#cbd2b1"/>
<circle cx="897.3" cy="406.7" r="2.9" fill="#c0c7a5"/>
<circle cx="905.3" cy="408.6" r="2.9" fill="#cbd2b1"/>
<circle cx="910.1" cy="408.0" r="2.8" fill="#d6dcbe"/>
<circle cx="916.6" cy="408.3" r="3.0" fill="#e9edd5"/>
<circle cx="924.3" cy="407.1" r="3.1" fill="#d6dcbe"/>
<circle cx="929.6" cy="408.3" r="2.8" fill="#e9edd5"/>
<circle cx="936.8" cy="408.3" r="3.2" fill="#e0e6ca"/>
<circle cx="942.8" cy="407.3" r="2.8" fill="#cbd2b1"/>
<circle cx="950.6" cy="408.1" r="2.8" fill="#d6dcbe"/>
<circle cx="955.9" cy="407.8" r="3.5" fill="#cbd2b1"/>
<circle cx="962.8" cy="408.2" r="3.1" fill="#cbd2b1"/>
<circle cx="969.7" cy="407.5" r="3.0" fill="#c0c7a5"/>
<circle cx="975.9" cy="408.1" r="3.0" fill="#e0e6ca"/>
<circle cx="982.3" cy="408.4" r="2.9" fill="#c0c7a5"/>
<circle cx="988.7" cy="408.6" r="3.2" fill="#c0c7a5"/>
<circle cx="995.4" cy="408.0" r="2.9" fill="#d6dcbe"/>
<circle cx="1000.8" cy="408.2" r="3.5" fill="#d6dcbe"/>
<circle cx="1007.8" cy="407.5" r="3.5" fill="#c0c7a5"/>
<circle cx="1013.3" cy="406.8" r="3.2" fill="#b2b996"/>
<circle cx="901.0" cy="414.3" r="2.7" fill="#cbd2b1"/>
<circle cx="906.8" cy="412.8" r="3.5" fill="#b2b996"/>
<circle cx="913.4" cy="413.6" r="2.8" fill="#e0e6ca"/>
<circle cx="921.4" cy="412.5" r="2.9" fill="#e0e6ca"/>
<circle cx="926.0" cy="413.1" r="3.3" fill="#e9edd5"/>
<circle cx="933.7" cy="414.2" r="2.8" fill="#cbd2b1"/>
<circle cx="938.8" cy="412.3" r="2.7" fill="#d6dcbe"/>
<circle cx="945.5" cy="412.5" r="2.8" fill="#e9edd5"/>
<circle cx="952.1" cy="413.7" r="2.7" fill="#c0c7a5"/>
<circle cx="959.3" cy="412.6" r="2.9" fill="#d6dcbe"/>
<circle cx="964.7" cy="412.7" r="3.3" fill="#b2b996"/>
<circle cx="971.1" cy="413.8" r="3.1" fill="#e9edd5"/>
<circle cx="977.8" cy="413.3" r="3.3" fill="#b2b996"/>
<circle cx="985.5" cy="413.2" r="3.3" fill="#e0e6ca"/>
<circle cx="990.5" cy="414.2" r="3.4" fill="#cbd2b1"/>
<circle cx="998.5" cy="412.8" r="3.0" fill="#b2b996"/>
<circle cx="1004.0" cy="414.3" r="3.0" fill="#b2b996"/>
<circle cx="1010.3" cy="412.6" r="2.7" fill="#b2b996"/>
<circle cx="903.5" cy="418.7" r="2.8" fill="#c0c7a5"/>
<circle cx="910.8" cy="419.5" r="3.0" fill="#c0c7a5"/>
<circle cx="918.0" cy="419.0" r="3.1" fill="#e9edd5"/>
<circle cx="923.1" cy="417.9" r="3.3" fill="#e9edd5"/>
<circle cx="929.9" cy="418.2" r="3.2" fill="#cbd2b1"/>
<circle cx="937.6" cy="418.8" r="3.0" fill="#e9edd5"/>
<circle cx="943.4" cy="419.9" r="2.8" fill="#b2b996"/>
<circle cx="948.9" cy="418.8" r="3.0" fill="#e0e6ca"/>
<circle cx="955.1" cy="419.4" r="2.9" fill="#d6dcbe"/>
<circle cx="961.1" cy="419.5" r="3.3" fill="#d6dcbe"/>
<circle cx="969.5" cy="419.5" r="2.7" fill="#d6dcbe"/>
<circle cx="974.1" cy="418.2" r="3.1" fill="#b2b996"/>
<circle cx="982.0" cy="417.8" r="2.9" fill="#e9edd5"/>
<circle cx="987.9" cy="418.7" r="2.8" fill="#d6dcbe"/>
<circle cx="995.4" cy="419.0" r="3.0" fill="#d6dcbe"/>
<circle cx="1001.6" cy="418.3" r="3.0" fill="#cbd2b1"/>
<circle cx="906.9" cy="423.8" r="3.0" fill="#cbd2b1"/>
<circle cx="914.2" cy="424.8" r="3.0" fill="#c0c7a5"/>
<circle cx="920.4" cy="424.8" r="3.5" fill="#d6dcbe"/>
<circle cx="926.2" cy="424.1" r="2.7" fill="#d6dcbe"/>
<circle cx="933.4" cy="425.4" r="3.0" fill="#c0c7a5"/>
<circle cx="940.7" cy="424.7" r="2.8" fill="#e9edd5"/>
<circle cx="945.1" cy="424.0" r="3.0" fill="#d6dcbe"/>
<circle cx="953.2" cy="423.7" r="3.1" fill="#b2b996"/>
<circle cx="959.3" cy="424.2" r="3.4" fill="#e9edd5"/>
<circle cx="964.3" cy="425.5" r="2.8" fill="#cbd2b1"/>
<circle cx="972.6" cy="423.6" r="3.5" fill="#e9edd5"/>
<circle cx="978.6" cy="423.8" r="3.4" fill="#e9edd5"/>
<circle cx="984.4" cy="424.4" r="3.1" fill="#e0e6ca"/>
<circle cx="990.6" cy="423.9" r="2.8" fill="#b2b996"/>
<circle cx="997.2" cy="424.7" r="3.2" fill="#b2b996"/>
<circle cx="1003.3" cy="423.6" r="2.7" fill="#b2b996"/>
<circle cx="911.9" cy="430.1" r="3.2" fill="#c0c7a5"/>
<circle cx="916.5" cy="429.2" r="3.4" fill="#b2b996"/>
<circle cx="923.1" cy="428.9" r="3.0" fill="#c0c7a5"/>
<circle cx="930.1" cy="428.8" r="3.4" fill="#e0e6ca"/>
<circle cx="937.7" cy="429.7" r="3.4" fill="#b2b996"/>
<circle cx="943.1" cy="430.2" r="3.3" fill="#cbd2b1"/>
<circle cx="950.1" cy="430.6" r="3.2" fill="#cbd2b1"/>
<circle cx="955.6" cy="429.4" r="3.4" fill="#c0c7a5"/>
<circle cx="962.1" cy="428.7" r="2.9" fill="#c0c7a5"/>
<circle cx="968.5" cy="430.3" r="3.1" fill="#e0e6ca"/>
<circle cx="976.3" cy="430.5" r="3.1" fill="#e0e6ca"/>
<circle cx="981.9" cy="430.1" r="3.1" fill="#cbd2b1"/>
<circle cx="986.7" cy="429.4" r="3.1" fill="#c0c7a5"/>
<circle cx="993.9" cy="430.2" r="2.7" fill="#cbd2b1"/>
<circle cx="999.8" cy="429.6" r="3.4" fill="#cbd2b1"/>
<circle cx="920.0" cy="436.5" r="3.1" fill="#c0c7a5"/>
<circle cx="927.4" cy="434.7" r="3.5" fill="#b2b996"/>
<circle cx="932.5" cy="434.8" r="3.2" fill="#d6dcbe"/>
<circle cx="940.1" cy="435.9" r="3.3" fill="#c0c7a5"/>
<circle cx="945.9" cy="436.4" r="3.0" fill="#d6dcbe"/>
<circle cx="952.4" cy="435.3" r="3.3" fill="#cbd2b1"/>
<circle cx="958.2" cy="436.5" r="2.8" fill="#d6dcbe"/>
<circle cx="964.6" cy="436.4" r="3.4" fill="#b2b996"/>
<circle cx="972.0" cy="435.5" r="3.3" fill="#d6dcbe"/>
<circle cx="978.4" cy="434.8" r="3.4" fill="#e0e6ca"/>
<circle cx="985.7" cy="436.6" r="3.1" fill="#c0c7a5"/>
<circle cx="991.9" cy="435.6" r="2.8" fill="#cbd2b1"/>
<circle cx="923.2" cy="440.9" r="3.3" fill="#c0c7a5"/>
<circle cx="929.4" cy="440.7" r="3.1" fill="#c0c7a5"/>
<circle cx="936.9" cy="440.1" r="3.1" fill="#b2b996"/>
<circle cx="943.1" cy="440.4" r="2.7" fill="#cbd2b1"/>
<circle cx="949.7" cy="440.5" r="2.9" fill="#e9edd5"/>
<circle cx="956.2" cy="439.8" r="3.5" fill="#d6dcbe"/>
<circle cx="962.7" cy="440.1" r="2.8" fill="#c0c7a5"/>
<circle cx="969.8" cy="441.2" r="3.1" fill="#c0c7a5"/>
<circle cx="975.0" cy="440.7" r="3.4" fill="#cbd2b1"/>
<circle cx="981.8" cy="441.4" r="3.3" fill="#cbd2b1"/>
<circle cx="988.5" cy="441.5" r="3.3" fill="#b2b996"/>
<circle cx="933.5" cy="446.2" r="3.5" fill="#cbd2b1"/>
<circle cx="938.8" cy="446.9" r="3.3" fill="#cbd2b1"/>
<circle cx="946.4" cy="445.8" r="3.3" fill="#cbd2b1"/>
<circle cx="952.2" cy="446.2" r="2.8" fill="#cbd2b1"/>
<circle cx="958.5" cy="445.4" r="3.4" fill="#cbd2b1"/>
<circle cx="966.5" cy="447.6" r="3.4" fill="#cbd2b1"/>
<circle cx="972.3" cy="447.4" r="3.0" fill="#b2b996"/>
<circle cx="978.1" cy="447.2" r="3.0" fill="#b2b996"/>
<circle cx="957" cy="324" r="2.6" fill="#c5cca9"/>
<circle cx="965" cy="326" r="2.6" fill="#c5cca9"/>
<circle cx="1018" cy="380" r="2.6" fill="#c5cca9"/>
<circle cx="1017" cy="396" r="2.6" fill="#c5cca9"/>
<circle cx="892" cy="395" r="2.6" fill="#c5cca9"/>
<circle cx="896" cy="372" r="2.6" fill="#c5cca9"/>
<circle cx="925" cy="437" r="2.6" fill="#c5cca9"/>
<circle cx="990" cy="446" r="2.6" fill="#c5cca9"/>
</g>
<g id="sugar">
<path d="M128,481 C131,480 133,483 131,488 L128,497 L124,496 L126,487 C126,484 126,482 128,481 Z" fill="#d89a5c"/>
<path d="M91,519 C93,508 108,502 121,502.5 C135,502 148,508 149,519 C147,528 126,530 118,529 C104,529 91,527 91,519 Z" fill="url(#sug)"/>
<path d="M118,494 C122,490 131,492 133,497 C134,503 129,511 123,512 L115,510 C114,504 115,498 118,494 Z" fill="#c8823f"/>
<path d="M84,528 C84,520 90,515 95,518 C105,524 135,525 146,518 C152,514 157,522 156,532 C156,541 150,547 140,548 L100,548 C90,547 84,540 84,528 Z" fill="#bb9062"/>
<path d="M88,534 C100,540 140,540 152,532" stroke="#95653a" stroke-width="1.5" fill="none"/>
<path d="M95,525 C108,530 130,530 145,524" stroke="#e0b888" stroke-width="1" fill="none"/>
<path d="M92,546 L150,546 C156,556 160,575 160,590 C160,597 150,600 140,600 L84,601 C76,601 69,598 70,594 C73,586 80,580 82,570 C84,560 86,552 92,546 Z" fill="url(#sack)"/>
<text x="118.8" y="577.5" font-family="Liberation Serif, serif" font-weight="400" font-size="19" fill="#2e1f1a" stroke="#2e1f1a" stroke-width="0.45" text-anchor="middle" textLength="59.5" lengthAdjust="spacingAndGlyphs">SUGAR</text>
<path d="M94,608 C102,600 120,596 135,588 C150,580 158,578 168,584 C178,590 186,598 191,608 C188,613 178,612 170,610 C150,612 120,614 100,613 C95,612 92,611 94,608 Z" fill="url(#sug)"/>
<path d="M150,590 C160,595 170,604 178,611" stroke="#d0d0d8" stroke-width="1.2" fill="none"/>
</g>
<g id="notes">
<g transform="matrix(0.973,-0.01,0.008,0.97,467,495.5)"><rect x="0" y="0" width="150" height="64" fill="#5d9f87"/><rect x="0" y="0" width="150" height="5" fill="url(#wav)"/><rect x="0" y="59" width="150" height="5" fill="url(#wav)"/><rect x="0" y="0" width="5" height="64" fill="url(#wavv)"/><rect x="145" y="0" width="5" height="64" fill="url(#wavv)"/><rect x="5" y="5" width="140" height="54" fill="#d3e7dc"/><rect x="7" y="8" width="136" height="48" fill="none" stroke="#4a937a" stroke-width="0.7"/><rect x="32" y="1" width="86" height="8" rx="1.5" fill="#d9eae0" stroke="#3f8a6e" stroke-width="1"/><rect x="37" y="4" width="76" height="2" fill="#6aa08a"/><ellipse cx="23" cy="29" rx="18" ry="10.5" fill="#4f9479" stroke="#8fbfaa" stroke-width="1" stroke-dasharray="1.5 1.5"/><ellipse cx="23" cy="29" rx="13.5" ry="6.5" fill="#e6f1ea"/><ellipse cx="127" cy="33" rx="18" ry="10.5" fill="#4f9479" stroke="#8fbfaa" stroke-width="1" stroke-dasharray="1.5 1.5"/><ellipse cx="127" cy="33" rx="13.5" ry="6.5" fill="#e6f1ea"/><text x="23" y="32" font-size="7.5" fill="#2d6a52" text-anchor="middle" font-family="Liberation Sans, sans-serif">৳১০০</text><text x="127" y="36" font-size="7.5" fill="#2d6a52" text-anchor="middle" font-family="Liberation Sans, sans-serif">৳১০০</text><circle cx="76" cy="31" r="13.5" fill="#4f9479"/><circle cx="76" cy="31" r="11.8" fill="#eef5f1"/><circle cx="76" cy="31" r="10.3" fill="none" stroke="#6aa78f" stroke-width="0.6"/><path d="M76,40 L76,23 M76,32 L70,25 M76,32 L82,25 M76,36 L68,29 M76,36 L84,29" stroke="#3f8a6e" stroke-width="1.5" fill="none"/><path d="M66,36 Q76,44 86,36 L86,38 Q76,44 66,38 Z" fill="#7fb39c"/><rect x="50" y="54" width="50" height="8" fill="#9dbfae" stroke="#3f8a6e" stroke-width="0.8"/></g>
<path d="M472,520 L625,535 L623,606 L470,599 Z" fill="#fbfcfa"/>
<g transform="matrix(0.98,0.087,-0.02,0.985,477.5,527.5)"><rect x="0" y="0" width="150" height="64" fill="#5d9f87"/><rect x="0" y="0" width="150" height="5" fill="url(#wav)"/><rect x="0" y="59" width="150" height="5" fill="url(#wav)"/><rect x="0" y="0" width="5" height="64" fill="url(#wavv)"/><rect x="145" y="0" width="5" height="64" fill="url(#wavv)"/><rect x="5" y="5" width="140" height="54" fill="#d3e7dc"/><rect x="7" y="8" width="136" height="48" fill="none" stroke="#4a937a" stroke-width="0.7"/><rect x="32" y="1" width="86" height="8" rx="1.5" fill="#d9eae0" stroke="#3f8a6e" stroke-width="1"/><rect x="37" y="4" width="76" height="2" fill="#6aa08a"/><ellipse cx="23" cy="29" rx="18" ry="10.5" fill="#4f9479" stroke="#8fbfaa" stroke-width="1" stroke-dasharray="1.5 1.5"/><ellipse cx="23" cy="29" rx="13.5" ry="6.5" fill="#e6f1ea"/><ellipse cx="127" cy="33" rx="18" ry="10.5" fill="#4f9479" stroke="#8fbfaa" stroke-width="1" stroke-dasharray="1.5 1.5"/><ellipse cx="127" cy="33" rx="13.5" ry="6.5" fill="#e6f1ea"/><text x="23" y="32" font-size="7.5" fill="#2d6a52" text-anchor="middle" font-family="Liberation Sans, sans-serif">৳১০০</text><text x="127" y="36" font-size="7.5" fill="#2d6a52" text-anchor="middle" font-family="Liberation Sans, sans-serif">৳১০০</text><circle cx="76" cy="31" r="13.5" fill="#4f9479"/><circle cx="76" cy="31" r="11.8" fill="#eef5f1"/><circle cx="76" cy="31" r="10.3" fill="none" stroke="#6aa78f" stroke-width="0.6"/><path d="M76,40 L76,23 M76,32 L70,25 M76,32 L82,25 M76,36 L68,29 M76,36 L84,29" stroke="#3f8a6e" stroke-width="1.5" fill="none"/><path d="M66,36 Q76,44 86,36 L86,38 Q76,44 66,38 Z" fill="#7fb39c"/><rect x="50" y="54" width="50" height="8" fill="#9dbfae" stroke="#3f8a6e" stroke-width="0.8"/></g>
<text x="480" y="601" font-size="5" fill="#333" font-family="Liberation Sans, sans-serif" transform="rotate(3 480 601)">নং  ১২৩৪৫৬৭</text>
</g>
<g id="ivbag">
<path d="M977,486 C978,490 978,495 977,500 L978,560 C979,570 979,580 977,588" stroke="#cfcfd3" stroke-width="1.4" fill="none"/>
<path d="M931,504 C937,500 946,506 953,505 C961,504 968,497 976,494 L977,558 C977,568 974,574 966,577 L944,578 C937,576 932,570 931,560 Z" fill="url(#iv)" stroke="#b8b8bd" stroke-width="0.7"/>
<g fill="#9a9aa0" opacity="0.55"><rect x="939" y="512" width="26" height="1.6"/><rect x="940" y="517" width="28" height="1.3"/><rect x="938" y="526" width="30" height="0.7"/><rect x="938" y="529" width="30" height="0.7"/><rect x="938" y="532" width="30" height="0.7"/><rect x="938" y="535" width="28" height="0.7"/></g>
<rect x="942.5" y="577" width="5.5" height="16" fill="#ececef" stroke="#c4c4c8" stroke-width="0.6"/>
<rect x="941.5" y="593" width="7" height="16.5" rx="1.5" fill="#3060c0"/>
<rect x="959" y="577" width="7" height="35" fill="#ededf0" stroke="#c4c4c8" stroke-width="0.6"/>
</g>
</svg>
</body></html>
